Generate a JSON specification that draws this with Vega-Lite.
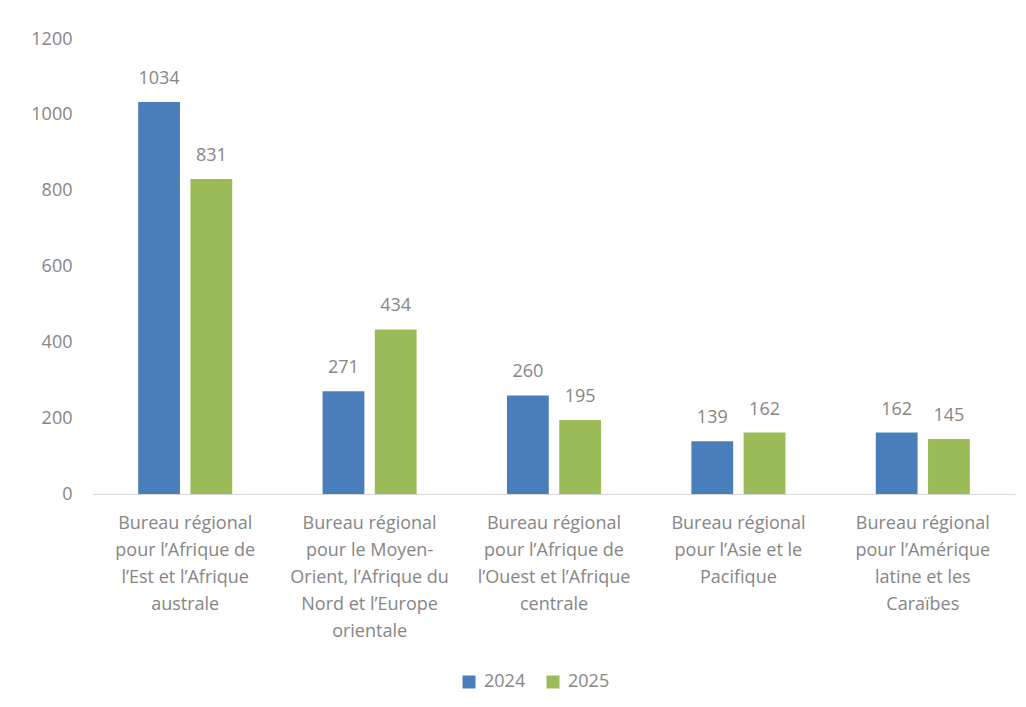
{
  "$schema": "https://vega.github.io/schema/vega-lite/v6.json",
  "width": 922,
  "height": 455,
  "padding": {"left": 30, "top": 30, "right": 5, "bottom": 5},
  "background": "white",
  "data": {
    "values": [
      {"bureau": "Bureau régional|pour l’Afrique de|l’Est et l’Afrique|australe", "year": "2024", "value": 1034},
      {"bureau": "Bureau régional|pour l’Afrique de|l’Est et l’Afrique|australe", "year": "2025", "value": 831},
      {"bureau": "Bureau régional|pour le Moyen-|Orient, l’Afrique du|Nord et l’Europe|orientale", "year": "2024", "value": 271},
      {"bureau": "Bureau régional|pour le Moyen-|Orient, l’Afrique du|Nord et l’Europe|orientale", "year": "2025", "value": 434},
      {"bureau": "Bureau régional|pour l’Afrique de|l’Ouest et l’Afrique|centrale", "year": "2024", "value": 260},
      {"bureau": "Bureau régional|pour l’Afrique de|l’Ouest et l’Afrique|centrale", "year": "2025", "value": 195},
      {"bureau": "Bureau régional|pour l’Asie et le|Pacifique", "year": "2024", "value": 139},
      {"bureau": "Bureau régional|pour l’Asie et le|Pacifique", "year": "2025", "value": 162},
      {"bureau": "Bureau régional|pour l’Amérique|latine et les|Caraïbes", "year": "2024", "value": 162},
      {"bureau": "Bureau régional|pour l’Amérique|latine et les|Caraïbes", "year": "2025", "value": 145}
    ]
  },
  "encoding": {
    "x": {
      "field": "bureau",
      "type": "nominal",
      "sort": null,
      "title": null,
      "scale": {"paddingInner": 0.49, "paddingOuter": 0.245},
      "axis": {
        "labelAngle": 0,
        "labelExpr": "split(datum.label, '|')",
        "labelFont": "Open Sans",
        "labelFontSize": 18,
        "labelColor": "#868686",
        "labelLineHeight": 27,
        "labelPadding": 20,
        "labelLimit": 300,
        "ticks": false,
        "domainColor": "#d9d9d9",
        "domainWidth": 1
      }
    },
    "xOffset": {
      "field": "year",
      "type": "nominal",
      "scale": {"paddingInner": 0.2, "paddingOuter": 0}
    },
    "y": {
      "field": "value",
      "type": "quantitative",
      "title": null,
      "scale": {"domain": [0, 1200]},
      "axis": {
        "values": [0, 200, 400, 600, 800, 1000, 1200],
        "format": "d",
        "grid": false,
        "domain": false,
        "ticks": false,
        "labelFont": "Open Sans",
        "labelFontSize": 18,
        "labelColor": "#868686",
        "labelPadding": 21
      }
    }
  },
  "layer": [
    {
      "mark": {"type": "bar"},
      "encoding": {
        "color": {
          "field": "year",
          "type": "nominal",
          "scale": {"domain": ["2024", "2025"], "range": ["#4a7ebb", "#9bbb59"]},
          "legend": {
            "orient": "none",
            "legendX": 367,
            "legendY": 634,
            "direction": "horizontal",
            "title": null,
            "symbolType": "square",
            "symbolSize": 169,
            "symbolStrokeWidth": 0,
            "labelFont": "Open Sans",
            "labelFontSize": 18,
            "labelColor": "#868686",
            "columnPadding": 18,
            "labelOffset": 6
          }
        }
      }
    },
    {
      "mark": {"type": "text", "baseline": "bottom", "dy": -14, "font": "Open Sans", "fontSize": 18, "color": "#868686"},
      "encoding": {
        "text": {"field": "value", "type": "quantitative"}
      }
    }
  ],
  "config": {"view": {"stroke": null}}
}
